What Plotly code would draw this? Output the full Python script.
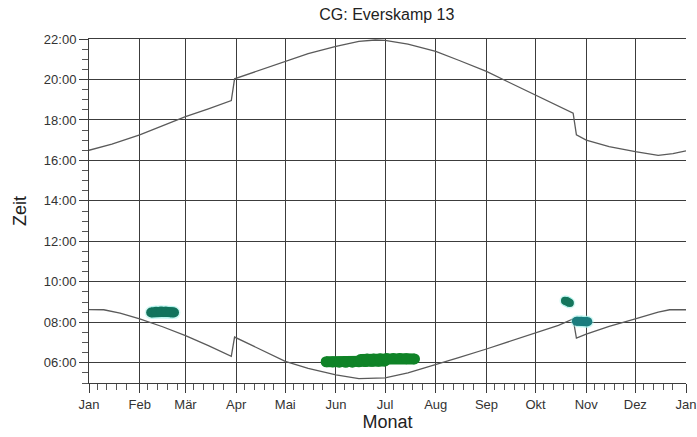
import plotly.graph_objects as go

# ---- data ----
month_ticks = ["2013-01-01", "2013-02-01", "2013-03-01", "2013-04-01", "2013-05-01", "2013-06-01",
               "2013-07-01", "2013-08-01", "2013-09-01", "2013-10-01", "2013-11-01", "2013-12-01",
               "2014-01-01"]
month_labels = ["Jan", "Feb", "Mär", "Apr", "Mai", "Jun", "Jul", "Aug", "Sep", "Okt", "Nov", "Dez", "Jan"]

hour_ticks = [6, 8, 10, 12, 14, 16, 18, 20, 22]
hour_labels = ["06:00", "08:00", "10:00", "12:00", "14:00", "16:00", "18:00", "20:00", "22:00"]

sunset_dates = ["2013-01-01", "2013-01-15", "2013-02-01", "2013-02-15", "2013-03-01", "2013-03-15",
                "2013-03-29", "2013-03-31", "2013-04-15", "2013-05-01", "2013-05-15", "2013-06-01",
                "2013-06-15", "2013-06-25", "2013-07-01", "2013-07-15", "2013-08-01", "2013-08-15",
                "2013-09-01", "2013-09-15", "2013-10-01", "2013-10-15", "2013-10-24", "2013-10-26",
                "2013-11-01", "2013-11-15", "2013-12-01", "2013-12-15", "2013-12-24", "2014-01-01"]
sunset_hours = [16.50, 16.80, 17.26, 17.70, 18.16, 18.55,
                18.96, 20.03, 20.45, 20.89, 21.28, 21.63,
                21.88, 21.95, 21.93, 21.75, 21.39, 20.95,
                20.40, 19.85, 19.24, 18.70, 18.33, 17.26,
                17.00, 16.68, 16.43, 16.25, 16.33, 16.47]

sunrise_dates = ["2013-01-01", "2013-01-10", "2013-01-20", "2013-02-01", "2013-02-15", "2013-03-01",
                 "2013-03-15", "2013-03-29", "2013-03-31", "2013-04-15", "2013-05-01", "2013-05-15",
                 "2013-06-01", "2013-06-15", "2013-07-01", "2013-07-15", "2013-08-01", "2013-08-15",
                 "2013-09-01", "2013-09-15", "2013-10-01", "2013-10-15", "2013-10-24", "2013-10-26",
                 "2013-11-01", "2013-11-15", "2013-12-01", "2013-12-15", "2013-12-22", "2014-01-01"]
sunrise_hours = [8.63, 8.62, 8.45, 8.17, 7.78, 7.34,
                 6.85, 6.32, 7.27, 6.68, 6.07, 5.72,
                 5.40, 5.22, 5.25, 5.50, 5.90, 6.25,
                 6.68, 7.05, 7.47, 7.85, 8.17, 7.22,
                 7.42, 7.80, 8.17, 8.50, 8.62, 8.62]

# shadow events (green blobs)
feb_dates = ["2013-02-08", "2013-02-11", "2013-02-14", "2013-02-17", "2013-02-20", "2013-02-22"]
feb_hours = [8.48, 8.52, 8.53, 8.52, 8.50, 8.48]

summer_dates_a = ["2013-05-26", "2013-05-30", "2013-06-03", "2013-06-07", "2013-06-11", "2013-06-15",
                  "2013-06-19", "2013-06-23", "2013-06-27", "2013-07-01"]
summer_hours_a = [6.05, 6.04, 6.03, 6.02, 6.03, 6.05, 6.06, 6.07, 6.08, 6.09]
summer_dates_b = ["2013-06-16", "2013-06-20", "2013-06-24", "2013-06-28", "2013-07-02", "2013-07-06",
                  "2013-07-10", "2013-07-14", "2013-07-19"]
summer_hours_b = [6.16, 6.18, 6.19, 6.20, 6.21, 6.21, 6.21, 6.20, 6.19]

oct_dates = ["2013-10-19", "2013-10-20", "2013-10-21", "2013-10-22"]
oct_hours = [9.07, 9.05, 9.00, 8.95]

nov_dates = ["2013-10-26", "2013-10-29", "2013-11-01", "2013-11-02"]
nov_hours = [8.05, 8.05, 8.03, 8.03]

minor_x = []
for m in month_ticks[:-1]:
    for d in ["06", "12", "18", "24"]:
        minor_x.append(m[:8] + d)

# ---- figure ----
fig = go.Figure()
line_style = dict(color="#5a5a5a", width=1.3)
fig.add_trace(go.Scatter(x=sunset_dates, y=sunset_hours, mode="lines", line=line_style, showlegend=False))
fig.add_trace(go.Scatter(x=sunrise_dates, y=sunrise_hours, mode="lines", line=line_style, showlegend=False))

def blob(xs, ys, color, size, halo="rgba(160,240,230,0.45)"):
    fig.add_trace(go.Scatter(x=xs, y=ys, mode="lines+markers", showlegend=False, hoverinfo="skip",
                             line=dict(color=halo, width=size + 3),
                             marker=dict(color=halo, size=size + 3, line=dict(width=0))))
    fig.add_trace(go.Scatter(x=xs, y=ys, mode="lines+markers", showlegend=False,
                             line=dict(color=color, width=size),
                             marker=dict(color=color, size=size, symbol="circle", line=dict(width=0))))

blob(feb_dates, feb_hours, "#12735c", 10)
blob(summer_dates_a, summer_hours_a, "#0f8327", 11, halo="rgba(0,0,0,0)")
blob(summer_dates_b, summer_hours_b, "#0f8327", 11, halo="rgba(0,0,0,0)")
blob(oct_dates, oct_hours, "#15765c", 8)
blob(nov_dates, nov_hours, "#1b7d7e", 9)

font_family = "Liberation Sans, Arial, sans-serif"
fig.update_layout(
    width=697, height=437,
    margin=dict(l=89, r=11, t=39, b=54),
    paper_bgcolor="white", plot_bgcolor="white",
    title=dict(text="CG: Everskamp 13", x=0.555, xanchor="center", y=0.968, yanchor="middle",
               font=dict(family=font_family, size=16, color="#222")),
    font=dict(family=font_family, color="#333"),
)
fig.update_xaxes(
    automargin=False,
    type="date", range=["2013-01-01", "2014-01-01"],
    tickvals=month_ticks, ticktext=month_labels, tickfont=dict(size=13, color="#333"),
    showgrid=True, gridcolor="#3c3c3c", gridwidth=1,
    showline=True, linecolor="#3c3c3c", linewidth=1, mirror=True,
    ticks="outside", ticklen=9, tickcolor="#3c3c3c",
    minor=dict(tickvals=minor_x, ticks="outside", ticklen=6, tickcolor="#555", showgrid=False),
    title=dict(text="Monat", font=dict(size=18, color="#222"), standoff=4),
    zeroline=False,
)
fig.update_yaxes(
    automargin=False,
    range=[5, 22],
    tickvals=hour_ticks, ticktext=hour_labels, tickfont=dict(size=13, color="#333"),
    showgrid=True, gridcolor="#3c3c3c", gridwidth=1,
    showline=True, linecolor="#3c3c3c", linewidth=1,
    ticks="outside", ticklen=9, tickcolor="#3c3c3c",
    minor=dict(dtick=0.5, ticks="outside", ticklen=6, tickcolor="#555", showgrid=False),
    title=dict(text="Zeit", font=dict(size=18, color="#222"), standoff=12),
    zeroline=False,
)

fig.write_html("out.html", config={"displayModeBar": False},
               post_script="document.body.style.margin='0';document.body.style.padding='0';")
